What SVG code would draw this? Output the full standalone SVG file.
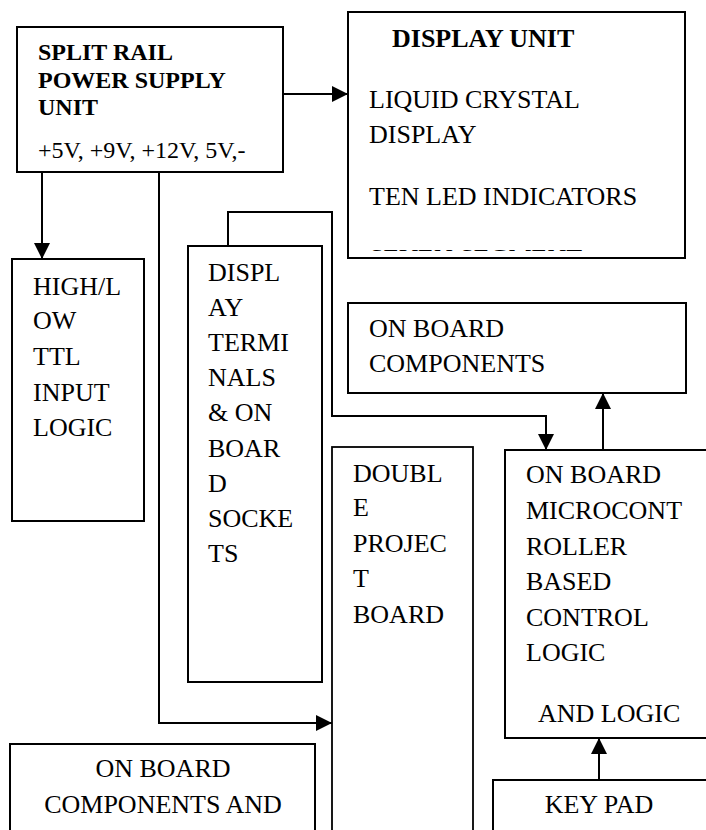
<svg xmlns="http://www.w3.org/2000/svg" width="706" height="830" viewBox="0 0 706 830">
<defs>
<style>
.box{fill:#fff;stroke:#000;stroke-width:2}
.t{font-family:"Liberation Serif","Times New Roman",serif;font-size:26px;fill:#000}
.ts{font-family:"Liberation Serif","Times New Roman",serif;font-size:24px;fill:#000}
.b{font-weight:bold}
.c{text-anchor:middle}
.ln{fill:none;stroke:#000;stroke-width:2}
.ar{marker-end:url(#arr)}
</style>
<marker id="arr" viewBox="0 0 16 16" markerWidth="16" markerHeight="16" refX="16" refY="8" orient="auto" markerUnits="userSpaceOnUse">
<path d="M0,0 L16,8 L0,16 z" fill="#000"/>
</marker>
<clipPath id="dclip"><rect x="348" y="12" width="337" height="239"/></clipPath>
</defs>
<g id="power">
<rect class="box" x="17" y="27" width="266" height="145"/>
<text class="ts b" x="38" y="60">SPLIT RAIL</text>
<text class="ts b" x="38" y="88">POWER SUPPLY</text>
<text class="ts b" x="38" y="115">UNIT</text>
<text class="ts" x="38" y="158">+5V, +9V, +12V, 5V,-</text>
</g>
<g id="display">
<rect class="box" x="348" y="12" width="337" height="246"/>
<text class="t b" x="392" y="47">DISPLAY UNIT</text>
<text class="t" x="369" y="108">LIQUID CRYSTAL</text>
<text class="t" x="369" y="143">DISPLAY</text>
<text class="t" x="369" y="205">TEN LED INDICATORS</text>
<text class="t" x="369" y="266.8" clip-path="url(#dclip)">SEVEN SEGMENT</text>
</g>
<g id="highlow">
<rect class="box" x="12" y="259" width="132" height="262"/>
<text class="t" x="33" y="295">HIGH/L</text>
<text class="t" x="33" y="329">OW</text>
<text class="t" x="33" y="365">TTL</text>
<text class="t" x="33" y="401">INPUT</text>
<text class="t" x="33" y="436">LOGIC</text>
</g>
<g id="terminals">
<rect class="box" x="188" y="246" width="134" height="436"/>
<text class="t" x="208" y="281">DISPL</text>
<text class="t" x="208" y="316">AY</text>
<text class="t" x="208" y="351">TERMI</text>
<text class="t" x="208" y="386">NALS</text>
<text class="t" x="208" y="421">&amp; ON</text>
<text class="t" x="208" y="457">BOAR</text>
<text class="t" x="208" y="492">D</text>
<text class="t" x="208" y="527">SOCKE</text>
<text class="t" x="208" y="562">TS</text>
</g>
<g id="components">
<rect class="box" x="348" y="303" width="338" height="90"/>
<text class="t" x="369" y="337">ON BOARD</text>
<text class="t" x="369" y="372">COMPONENTS</text>
</g>
<g id="doubleboard">
<rect class="box" x="332" y="447" width="141" height="400" style="stroke-width:1.8"/>
<text class="t" x="353" y="482">DOUBL</text>
<text class="t" x="353" y="516">E</text>
<text class="t" x="353" y="552">PROJEC</text>
<text class="t" x="353" y="587">T</text>
<text class="t" x="353" y="623">BOARD</text>
</g>
<g id="micro">
<rect class="box" x="505" y="450" width="210" height="288"/>
<text class="t" x="526" y="483">ON BOARD</text>
<text class="t" x="526" y="519">MICROCONT</text>
<text class="t" x="526" y="555">ROLLER</text>
<text class="t" x="526" y="590">BASED</text>
<text class="t" x="526" y="626">CONTROL</text>
<text class="t" x="526" y="661">LOGIC</text>
<text class="t" x="538" y="722">AND LOGIC</text>
</g>
<g id="keypad">
<rect class="box" x="493" y="780" width="222" height="70"/>
<text class="t c" x="599" y="813">KEY PAD</text>
</g>
<g id="bottomcomponents">
<rect class="box" x="10" y="744" width="305" height="100"/>
<text class="t c" x="163" y="777">ON BOARD</text>
<text class="t c" x="163" y="813">COMPONENTS AND</text>
</g>
<g id="connectors">
<path class="ln ar" d="M283,94 L348,94"/>
<path class="ln ar" d="M42,172 L42,259"/>
<path class="ln ar" d="M159,172 L159,723 L332,723"/>
<path class="ln ar" d="M228,246 L228,212 L332,212 L332,416 L546,416 L546,450"/>
<path class="ln ar" d="M603,450 L603,393"/>
<path class="ln ar" d="M599,780 L599,738"/>
</g>
</svg>
